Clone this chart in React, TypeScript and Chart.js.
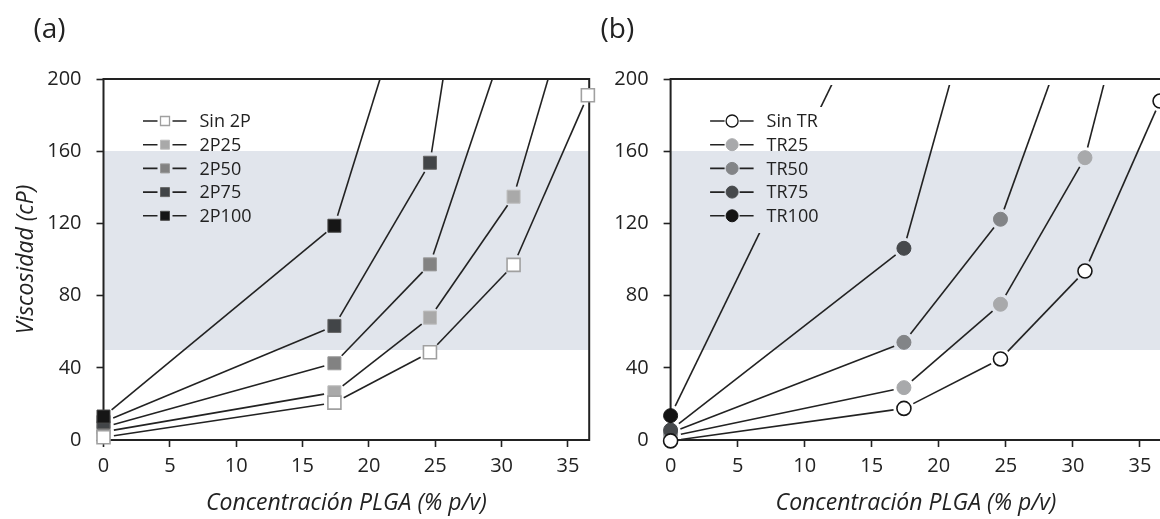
import React, { useEffect, useRef } from 'react';
import { Chart, registerables } from 'chart.js';

Chart.register(...registerables);

const FONT = '"Open Sans", "DejaVu Sans", sans-serif';
const INK = '#222222';
const BAND_COLOR = '#e1e5ec';

// PLGA concentration (% p/v) shared by both panels
const concentracion = [0, 17.4, 24.6, 30.9, 36.5];

// Panel (a): viscosity (cP) with 2P
const sin2P = [1.5, 20.7, 48.6, 97, 191];
const p2P25 = [4.5, 26.4, 67.8, 134.8, 275];
const p2P50 = [7, 42.5, 97.3, 235, null];
const p2P75 = [10, 63.2, 153.6, 450, null];
const p2P100 = [13, 118.7, 289, null, null];

// Panel (b): viscosity (cP) with TR
const sinTR = [-0.5, 17.5, 44.9, 93.6, 187.8];
const tr25 = [2, 29, 75.2, 156.4, 318];
const tr50 = [4, 54.1, 122.3, 252, null];
const tr75 = [5.5, 106.2, 298, null, null];
const tr100 = [13.5, 279, null, null, null];

const labels2P = ['Sin 2P', '2P25', '2P50', '2P75', '2P100'];
const labelsTR = ['Sin TR', 'TR25', 'TR50', 'TR75', 'TR100'];

// Shaded viscosity range (cP)
const bandRange = [50, 160];

const xRange = [0, 36.6];
const xStep = 5;
const yRange = [0, 200];
const yStep = 40;

type Series = { label: string; values: (number | null)[]; fill: string; border: string; order: number };

const seriesA: Series[] = [
  { label: labels2P[0], values: sin2P, fill: '#ffffff', border: '#a0a0a0', order: 0 },
  { label: labels2P[1], values: p2P25, fill: '#a9a9a9', border: '#bdbdbd', order: 4 },
  { label: labels2P[2], values: p2P50, fill: '#828282', border: '#9a9a9a', order: 3 },
  { label: labels2P[3], values: p2P75, fill: '#424548', border: '#666666', order: 2 },
  { label: labels2P[4], values: p2P100, fill: '#161616', border: '#4a4a4a', order: 1 },
];

const seriesB: Series[] = [
  { label: labelsTR[0], values: sinTR, fill: '#ffffff', border: '#151515', order: 0 },
  { label: labelsTR[1], values: tr25, fill: '#a8a9ab', border: '#a8a9ab', order: 4 },
  { label: labelsTR[2], values: tr50, fill: '#828487', border: '#828487', order: 3 },
  { label: labelsTR[3], values: tr75, fill: '#46494c', border: '#46494c', order: 2 },
  { label: labelsTR[4], values: tr100, fill: '#141414', border: '#141414', order: 1 },
];

type PanelCfg = {
  tag: string;
  series: Series[];
  shape: 'rect' | 'circle';
  axisWidth: number;
  padRight: number;
  lineTopInset: number;
  yTitle: boolean;
};

function makeDecor(cfg: PanelCfg) {
  const gap = 10.5;
  return {
    id: 'panelDecor',
    beforeDatasetsDraw(chart: any) {
      const { ctx, chartArea: ca, scales } = chart;
      const y = scales.y;
      ctx.save();
      // shaded range
      const yTop = Math.round(y.getPixelForValue(bandRange[1]));
      const yBot = Math.round(y.getPixelForValue(bandRange[0]));
      ctx.fillStyle = BAND_COLOR;
      ctx.fillRect(ca.left, yTop, ca.right - ca.left, yBot - yTop);

      // connecting segments that stop short of each marker
      ctx.beginPath();
      ctx.rect(ca.left, ca.top + cfg.lineTopInset, ca.right - ca.left, ca.bottom - ca.top - cfg.lineTopInset);
      ctx.clip();
      ctx.strokeStyle = INK;
      ctx.lineWidth = 1.6;
      ctx.lineCap = 'butt';
      chart.data.datasets.forEach((_: any, i: number) => {
        const pts = chart.getDatasetMeta(i).data.filter((p: any) => !p.skip && isFinite(p.x) && isFinite(p.y));
        for (let k = 0; k < pts.length - 1; k++) {
          const a = pts[k];
          const b = pts[k + 1];
          const dx = b.x - a.x;
          const dy = b.y - a.y;
          const len = Math.hypot(dx, dy);
          if (len <= 2 * gap) continue;
          const ux = dx / len;
          const uy = dy / len;
          ctx.beginPath();
          ctx.moveTo(a.x + ux * gap, a.y + uy * gap);
          ctx.lineTo(b.x - ux * gap, b.y - uy * gap);
          ctx.stroke();
        }
      });
      ctx.restore();

      // plot frame
      ctx.save();
      ctx.strokeStyle = INK;
      ctx.lineWidth = 2;
      ctx.strokeRect(ca.left, ca.top, ca.right - ca.left, ca.bottom - ca.top);
      ctx.restore();
    },
    afterDatasetsDraw(chart: any) {
      const { ctx, chartArea: ca, scales } = chart;
      const y = scales.y;
      const row0 = 121;
      const rowStep = 23.7;
      const n = cfg.series.length;
      ctx.save();
      ctx.font = `18px ${FONT}`;
      let maxW = 0;
      cfg.series.forEach((s) => { maxW = Math.max(maxW, ctx.measureText(s.label).width); });
      // legend backing: hides curves passing behind it, keeps the shaded range
      const boxL = Math.round(ca.left + 35);
      const boxR = Math.round(ca.left + 96 + maxW + 6);
      const boxT = Math.round(row0 - 14);
      const boxB = Math.round(row0 + rowStep * (n - 1) + 17.5);
      ctx.fillStyle = '#ffffff';
      ctx.fillRect(boxL, boxT, boxR - boxL, boxB - boxT);
      const bT = Math.max(boxT, Math.round(y.getPixelForValue(bandRange[1])));
      const bB = Math.min(boxB, Math.round(y.getPixelForValue(bandRange[0])));
      if (bB > bT) {
        ctx.fillStyle = BAND_COLOR;
        ctx.fillRect(boxL, bT, boxR - boxL, bB - bT);
      }
      cfg.series.forEach((s, i) => {
        const ry = row0 + rowStep * i;
        ctx.strokeStyle = INK;
        ctx.lineWidth = 1.6;
        ctx.beginPath();
        ctx.moveTo(ca.left + 39.5, ry);
        ctx.lineTo(ca.left + 54, ry);
        ctx.moveTo(ca.left + 69, ry);
        ctx.lineTo(ca.left + 83, ry);
        ctx.stroke();
        const mx = ca.left + 61.5;
        ctx.fillStyle = s.fill;
        ctx.strokeStyle = s.border;
        ctx.lineWidth = i === 0 ? 1.3 : 1;
        ctx.beginPath();
        if (cfg.shape === 'rect') {
          ctx.rect(mx - 4.5, ry - 4.5, 9, 9);
        } else {
          ctx.arc(mx, ry, 6, 0, Math.PI * 2);
        }
        ctx.fill();
        ctx.stroke();
        ctx.fillStyle = INK;
        ctx.textAlign = 'left';
        ctx.textBaseline = 'middle';
        ctx.fillText(s.label, ca.left + 96, ry + 1);
      });
      // panel tag
      ctx.font = `28px ${FONT}`;
      ctx.fillStyle = INK;
      ctx.textAlign = 'left';
      ctx.textBaseline = 'middle';
      ctx.fillText(cfg.tag, ca.left - 70, 30);
      ctx.restore();
    },
  };
}

function Panel({ cfg, left, width }: { cfg: PanelCfg; left: number; width: number }) {
  const ref = useRef<HTMLCanvasElement | null>(null);
  useEffect(() => {
    if (!ref.current) return;
    const tickFont = { family: FONT, size: 20 };
    const grid = {
      display: true,
      drawOnChartArea: false,
      drawTicks: true,
      tickLength: 7,
      tickWidth: 1.6,
      tickColor: INK,
    };
    const chart = new Chart(ref.current, {
      type: 'scatter',
      data: {
        datasets: cfg.series.map((s) => ({
          label: s.label,
          data: concentracion.map((c, i) => ({ x: c, y: s.values[i] as any })),
          showLine: false,
          order: s.order,
          pointStyle: cfg.shape,
          pointRadius: cfg.shape === 'rect' ? 9.2 : 7,
          pointBackgroundColor: s.fill,
          pointBorderColor: s.border,
          pointBorderWidth: s.fill === '#ffffff' ? 1.6 : 1,
          clip: { left: 14, right: 14, top: 0, bottom: 14 } as any,
        })),
      },
      options: {
        animation: false,
        responsive: false,
        events: [],
        layout: { padding: { left: 0, top: 79, right: cfg.padRight, bottom: 0 } },
        plugins: {
          legend: { display: false },
          tooltip: { enabled: false },
          title: { display: false },
        },
        scales: {
          x: {
            type: 'linear',
            min: xRange[0],
            max: xRange[1],
            ticks: {
              stepSize: xStep,
              includeBounds: false,
              autoSkip: false,
              maxRotation: 0,
              color: INK,
              font: tickFont,
              padding: 7,
            },
            grid,
            border: { display: false },
            title: {
              display: true,
              text: 'Concentración PLGA (% p/v)',
              color: INK,
              font: { family: FONT, size: 23, style: 'italic' },
              padding: { top: 0, bottom: 2 },
            },
            afterFit: (s: any) => { s.height = 79; },
          },
          y: {
            type: 'linear',
            min: yRange[0],
            max: yRange[1],
            ticks: { stepSize: yStep, color: INK, font: tickFont, padding: 15 },
            grid,
            border: { display: false },
            title: {
              display: cfg.yTitle,
              text: 'Viscosidad (cP)',
              color: INK,
              font: { family: FONT, size: 23, style: 'italic' },
              padding: { top: 13, bottom: 0 },
            },
            afterFit: (s: any) => { s.width = cfg.axisWidth; },
          },
        },
      } as any,
      plugins: [makeDecor(cfg) as any],
    });
    return () => chart.destroy();
  }, [cfg]);
  return (
    <div style={{ position: 'absolute', left, top: 0, width, height: 519 }}>
      <canvas ref={ref} width={width} height={519} style={{ width, height: 519, display: 'block' }} />
    </div>
  );
}

const cfgA: PanelCfg = {
  tag: '(a)',
  series: seriesA,
  shape: 'rect',
  axisWidth: 103.5,
  padRight: 5,
  lineTopInset: 0,
  yTitle: true,
};

const cfgB: PanelCfg = {
  tag: '(b)',
  series: seriesB,
  shape: 'circle',
  axisWidth: 90.6,
  padRight: 8,
  lineTopInset: 6,
  yTitle: false,
};

export default function App() {
  return (
    <div
      style={{
        position: 'fixed',
        left: 0,
        top: 0,
        width: 1160,
        height: 519,
        overflow: 'hidden',
        background: '#ffffff',
      }}
    >
      <Panel cfg={cfgA} left={0} width={600} />
      <Panel cfg={cfgB} left={580} width={590} />
    </div>
  );
}
